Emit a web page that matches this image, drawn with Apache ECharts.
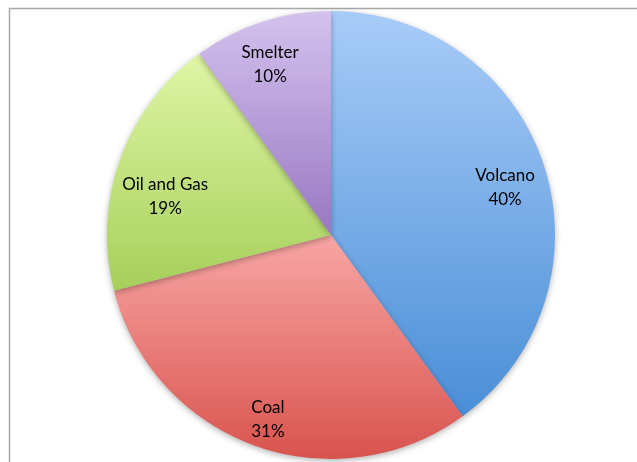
<!DOCTYPE html>
<html>
<head>
<meta charset="utf-8">
<script src="https://cdn.jsdelivr.net/npm/echarts@6/dist/echarts.min.js"></script>
<style>
html,body{margin:0;padding:0;background:#fff;}
#c{width:637px;height:462px;}
</style>
</head>
<body>
<div id="c"></div>
<script>
var categories = ['Volcano', 'Coal', 'Oil and Gas', 'Smelter'];
var values = [40, 31, 19, 10];
var topColors = ['#a8ccf8', '#f8a6a4', '#dff6a6', '#d4c2ee'];
var bottomColors = ['#4a8ed7', '#d9534e', '#a6cf5a', '#9877c2'];
// label placement: fraction of radius and angle nudge (degrees) from slice mid-angle
var labelRadiusFrac = [0.806, 0.87, 0.76, 0.81];
var labelAngleNudge = [2.6, -0.9, -6.8, -1.6];

var CX = 331, CY = 235, R = 224;

var chart = echarts.init(document.getElementById('c'), null, {renderer: 'canvas'});

var total = values.reduce(function (a, b) { return a + b; }, 0);
var midAngles = [];
(function () {
  var acc = 0;
  values.forEach(function (v) {
    midAngles.push((acc + v / 2) / total * 360);
    acc += v;
  });
})();

var sliceData = categories.map(function (name, i) {
  return {
    name: name,
    value: values[i],
    itemStyle: {
      color: new echarts.graphic.LinearGradient(0, 0, 0, 1, [
        {offset: 0, color: topColors[i]},
        {offset: 1, color: bottomColors[i]}
      ])
    }
  };
});

var option = {
  backgroundColor: '#ffffff',
  animation: false,
  graphic: [
    {type: 'line', shape: {x1: 9, y1: 8.5, x2: 637, y2: 8.5}, style: {stroke: '#a8a8a8', lineWidth: 1.5}, z: 0},
    {type: 'line', shape: {x1: 9.5, y1: 8, x2: 9.5, y2: 462}, style: {stroke: '#a8a8a8', lineWidth: 1.5}, z: 0}
  ],
  series: [
    {
      type: 'pie',
      center: [CX, CY],
      radius: [0, R],
      startAngle: 90,
      clockwise: true,
      silent: true,
      label: {
        show: true,
        position: 'inside',
        formatter: '{b}\n{d}%',
        fontFamily: 'Lato, "Open Sans", sans-serif',
        fontSize: 17,
        lineHeight: 24,
        color: '#000000'
      },
      labelLine: {show: false},
      labelLayout: function (params) {
        var i = params.dataIndex;
        var a = (midAngles[i] + labelAngleNudge[i]) * Math.PI / 180;
        var r = R * labelRadiusFrac[i];
        return {
          x: CX + r * Math.sin(a),
          y: CY - r * Math.cos(a),
          align: 'center',
          verticalAlign: 'middle'
        };
      },
      itemStyle: {
        borderWidth: 0,
        shadowBlur: 6,
        shadowOffsetY: 2,
        shadowColor: 'rgba(0,0,0,0.3)'
      },
      emphasis: {disabled: true},
      data: sliceData
    }
  ]
};
chart.setOption(option);
</script>
</body>
</html>
